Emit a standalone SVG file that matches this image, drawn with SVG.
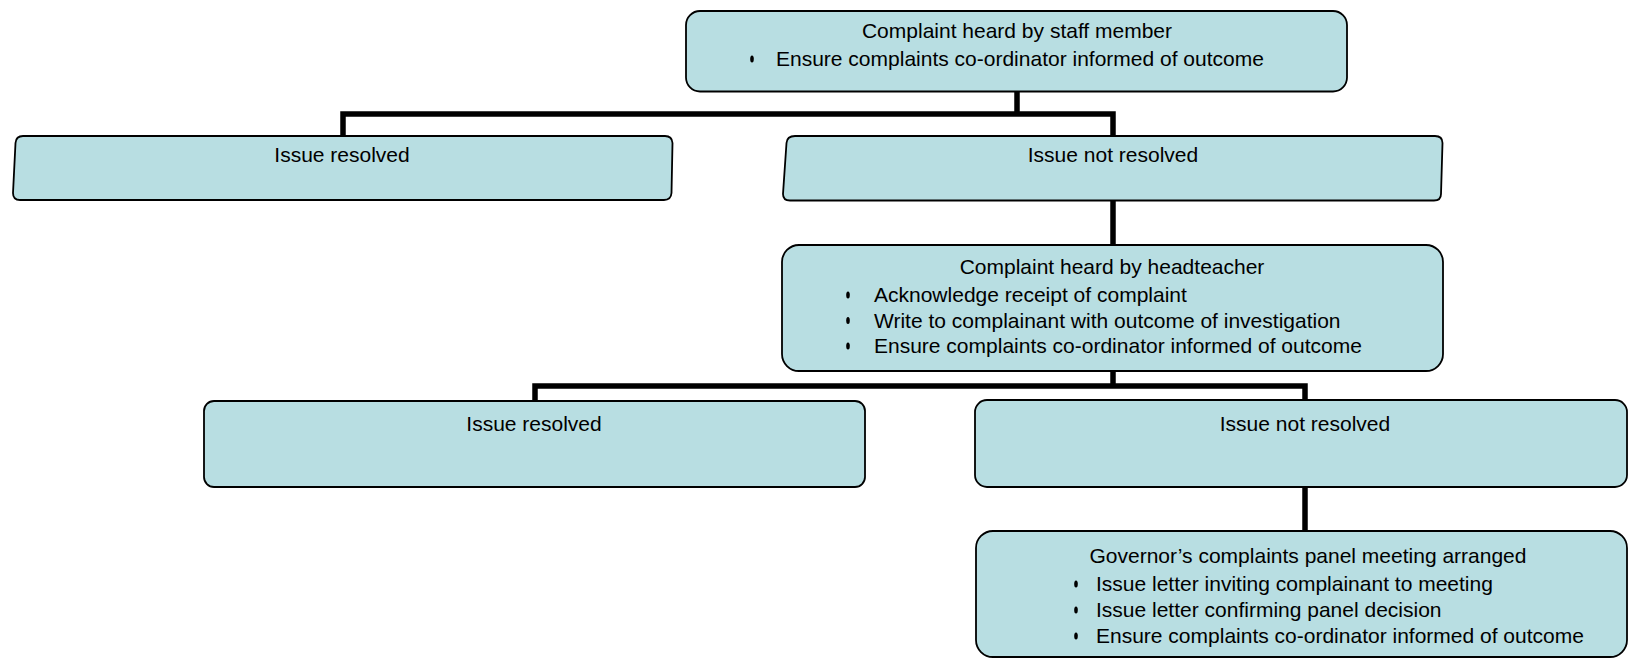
<svg xmlns="http://www.w3.org/2000/svg" width="1628" height="658" viewBox="0 0 1628 658">
<style>
.box{fill:#B8DEE2;stroke:#000;stroke-width:1.8}
.t{font-family:"Liberation Sans",Arial,sans-serif;font-size:21px;fill:#000}
.c{text-anchor:middle}
.b{fill:#000}
.conn{fill:none;stroke:#000;stroke-width:5.5;stroke-linejoin:miter;stroke-linecap:butt}
</style>
<rect width="1628" height="658" fill="#fff"/>
<g id="connectors">
<path class="conn" d="M1017,91 V114"/>
<path class="conn" d="M343,136 V114 H1113 V136"/>
<path class="conn" d="M1113,200 V245"/>
<path class="conn" d="M1113,371 V386"/>
<path class="conn" d="M535,401 V386 H1305 V400"/>
<path class="conn" d="M1305,487 V531"/>
</g>
<g id="staff">
<rect class="box" x="686" y="11" width="661" height="80.5" rx="14"/>
<text class="t c" x="1017" y="38">Complaint heard by staff member</text>
<ellipse class="b" cx="752" cy="59" rx="1.8" ry="3.5"/>
<text class="t" x="776" y="66">Ensure complaints co-ordinator informed of outcome</text>
</g>
<g id="resolved1">
<path class="box" d="M23,136 H665 Q672,136 672.5,143 L671.5,193 Q671,200 664,200 H20 Q13,200 13,193 L15.5,143 Q16,136 23,136 Z"/>
<text class="t c" x="342" y="162">Issue resolved</text>
</g>
<g id="notresolved1">
<path class="box" d="M795,136 H1435 Q1442.5,136 1442.5,143 L1441,194 Q1441,200.5 1434,200.5 H790 Q783,200.5 783,194 L786.5,143 Q787,136 795,136 Z"/>
<text class="t c" x="1113" y="162">Issue not resolved</text>
</g>
<g id="headteacher">
<rect class="box" x="782" y="245" width="661" height="126" rx="17"/>
<text class="t c" x="1112" y="274">Complaint heard by headteacher</text>
<ellipse class="b" cx="848" cy="295" rx="1.8" ry="3.5"/>
<text class="t" x="874" y="302">Acknowledge receipt of complaint</text>
<ellipse class="b" cx="848" cy="320.5" rx="1.8" ry="3.5"/>
<text class="t" x="874" y="327.5">Write to complainant with outcome of investigation</text>
<ellipse class="b" cx="848" cy="346" rx="1.8" ry="3.5"/>
<text class="t" x="874" y="353">Ensure complaints co-ordinator informed of outcome</text>
</g>
<g id="resolved2">
<rect class="box" x="204" y="401" width="661" height="86" rx="10"/>
<text class="t c" x="534" y="431">Issue resolved</text>
</g>
<g id="notresolved2">
<rect class="box" x="975" y="400" width="652" height="87" rx="12"/>
<text class="t c" x="1305" y="431">Issue not resolved</text>
</g>
<g id="governor">
<rect class="box" x="976" y="531" width="651" height="126" rx="17"/>
<text class="t c" x="1308" y="563">Governor’s complaints panel meeting arranged</text>
<ellipse class="b" cx="1076" cy="584" rx="1.8" ry="3.5"/>
<text class="t" x="1096" y="591">Issue letter inviting complainant to meeting</text>
<ellipse class="b" cx="1076" cy="610" rx="1.8" ry="3.5"/>
<text class="t" x="1096" y="617">Issue letter confirming panel decision</text>
<ellipse class="b" cx="1076" cy="636" rx="1.8" ry="3.5"/>
<text class="t" x="1096" y="643">Ensure complaints co-ordinator informed of outcome</text>
</g>
</svg>
